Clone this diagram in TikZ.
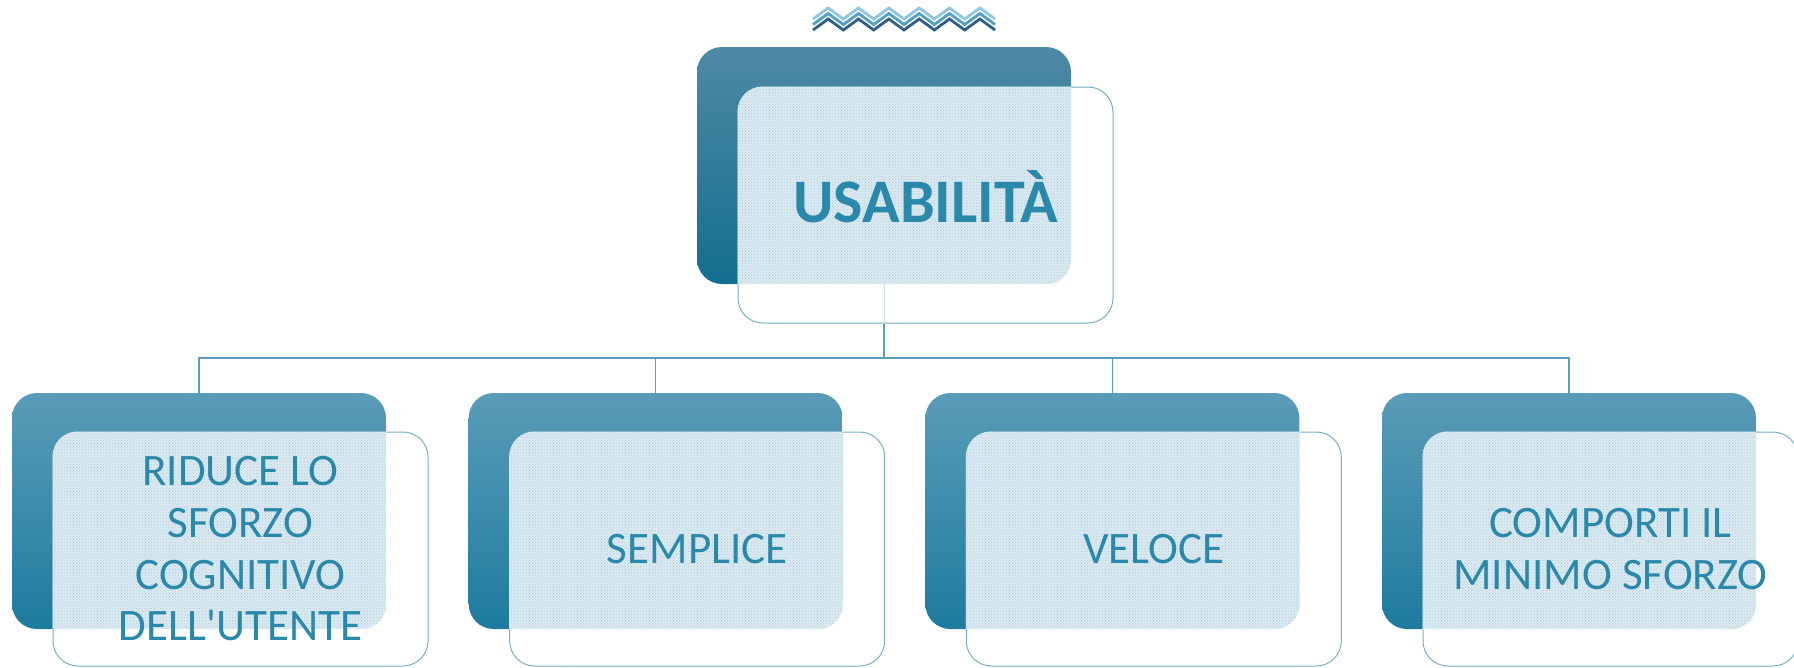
\documentclass[tikz,border=0pt]{standalone}
\usepackage{fontspec}
\setmainfont{Carlito}
\usetikzlibrary{patterns}
\definecolor{topA}{HTML}{4E89A5}
\definecolor{topB}{HTML}{136F8F}
\definecolor{kidA}{HTML}{5A9CB8}
\definecolor{kidB}{HTML}{1D7B9E}
\definecolor{edge}{HTML}{78B0C7}
\definecolor{ovl}{HTML}{DCEAF1}
\definecolor{dotc}{HTML}{A9CBDB}
\definecolor{txt}{HTML}{2A88AA}
\definecolor{lnk}{HTML}{5AA0BE}
\definecolor{faintc}{HTML}{C8DEE8}
\definecolor{wl}{HTML}{8DC8E0}
\definecolor{wm}{HTML}{4FA0C4}
\definecolor{wd}{HTML}{2F5E88}
\tikzset{
  backtop/.style={rectangle, rounded corners=25pt, minimum width=374pt, minimum height=237pt, inner sep=0pt, top color=topA, bottom color=topB, draw=none},
  backkid/.style={rectangle, rounded corners=25pt, minimum width=374pt, minimum height=236pt, inner sep=0pt, top color=kidA, bottom color=kidB, draw=none},
  frontbox/.style={rectangle, rounded corners=25pt, minimum width=375pt, minimum height=236pt, inner sep=0pt, fill=white, draw=edge, line width=1pt},
  kidtext/.style={text=txt, align=center, inner sep=0pt, font=\fontsize{45}{51.7}\selectfont},
  toptext/.style={text=txt, inner sep=0pt, font=\fontsize{62}{70}\selectfont\bfseries},
  conn/.style={draw=lnk, line width=1.3pt},
  faintconn/.style={draw=faintc, line width=0.8pt},
  wave/.style={line width=2.8pt, line join=miter}
}
\newcommand{\overlapfill}[2]{%
  \begin{scope}
    \clip[rounded corners=25pt] (#1.north west) rectangle (#1.south east);
    \fill[ovl, rounded corners=25pt] (#2.north west) rectangle (#2.south east);
    \fill[pattern=crosshatch dots, pattern color=dotc, rounded corners=25pt] (#2.north west) rectangle (#2.south east);
  \end{scope}}
\begin{document}
\begin{tikzpicture}[x=1pt,y=-1pt]
\useasboundingbox (0,0) rectangle (1794,667);
% wave ornament
\foreach \c/\d in {wl/0, wm/5.5, wd/11} {
  \draw[wave, color=\c] (813,{19+\d}) \foreach \j in {1,...,12} { -- ({813+15.17*\j},{19+\d-11*mod(\j,2)}) };
}
% top box
\node[backtop] (b0) at (884,165.5) {};
\node[frontbox] (f0) at (925.5,205) {};
\overlapfill{b0}{f0}
\node[toptext, anchor=base] (t0) at (925.5,222.7) {USABILITÀ};
% children
\node[backkid] (b1) at (199,511) {};
\node[backkid] (b2) at (655.7,511) {};
\node[backkid] (b3) at (1112.3,511) {};
\node[backkid] (b4) at (1569,511) {};
\node[frontbox, minimum height=234pt] (f1) at (240.5,549) {};
\node[frontbox, minimum height=234pt] (f2) at (697.2,549) {};
\node[frontbox, minimum height=234pt] (f3) at (1153.8,549) {};
\node[frontbox, minimum height=234pt] (f4) at (1610.5,549) {};
\overlapfill{b1}{f1}
\overlapfill{b2}{f2}
\overlapfill{b3}{f3}
\overlapfill{b4}{f4}
\node[kidtext] (t1) at (f1.center) {RIDUCE LO\\SFORZO\\COGNITIVO\\DELL\textquotesingle UTENTE};
\node[kidtext] (t2) at (f2.center) {SEMPLICE};
\node[kidtext] (t3) at (f3.center) {VELOCE};
\node[kidtext] (t4) at (f4.center) {COMPORTI IL\\MINIMO SFORZO};
% connectors
\coordinate (j0) at (b0.south |- f0.south);
\coordinate (hub) at (884,358);
\draw[faintconn] (b0.south) -- (j0);
\draw[conn] (j0) -- (hub);
\draw[conn] (hub) -| (b1.north);
\draw[conn] (hub) -| (b2.north);
\draw[conn] (hub) -| (b3.north);
\draw[conn] (hub) -| (b4.north);
\end{tikzpicture}
\end{document}
